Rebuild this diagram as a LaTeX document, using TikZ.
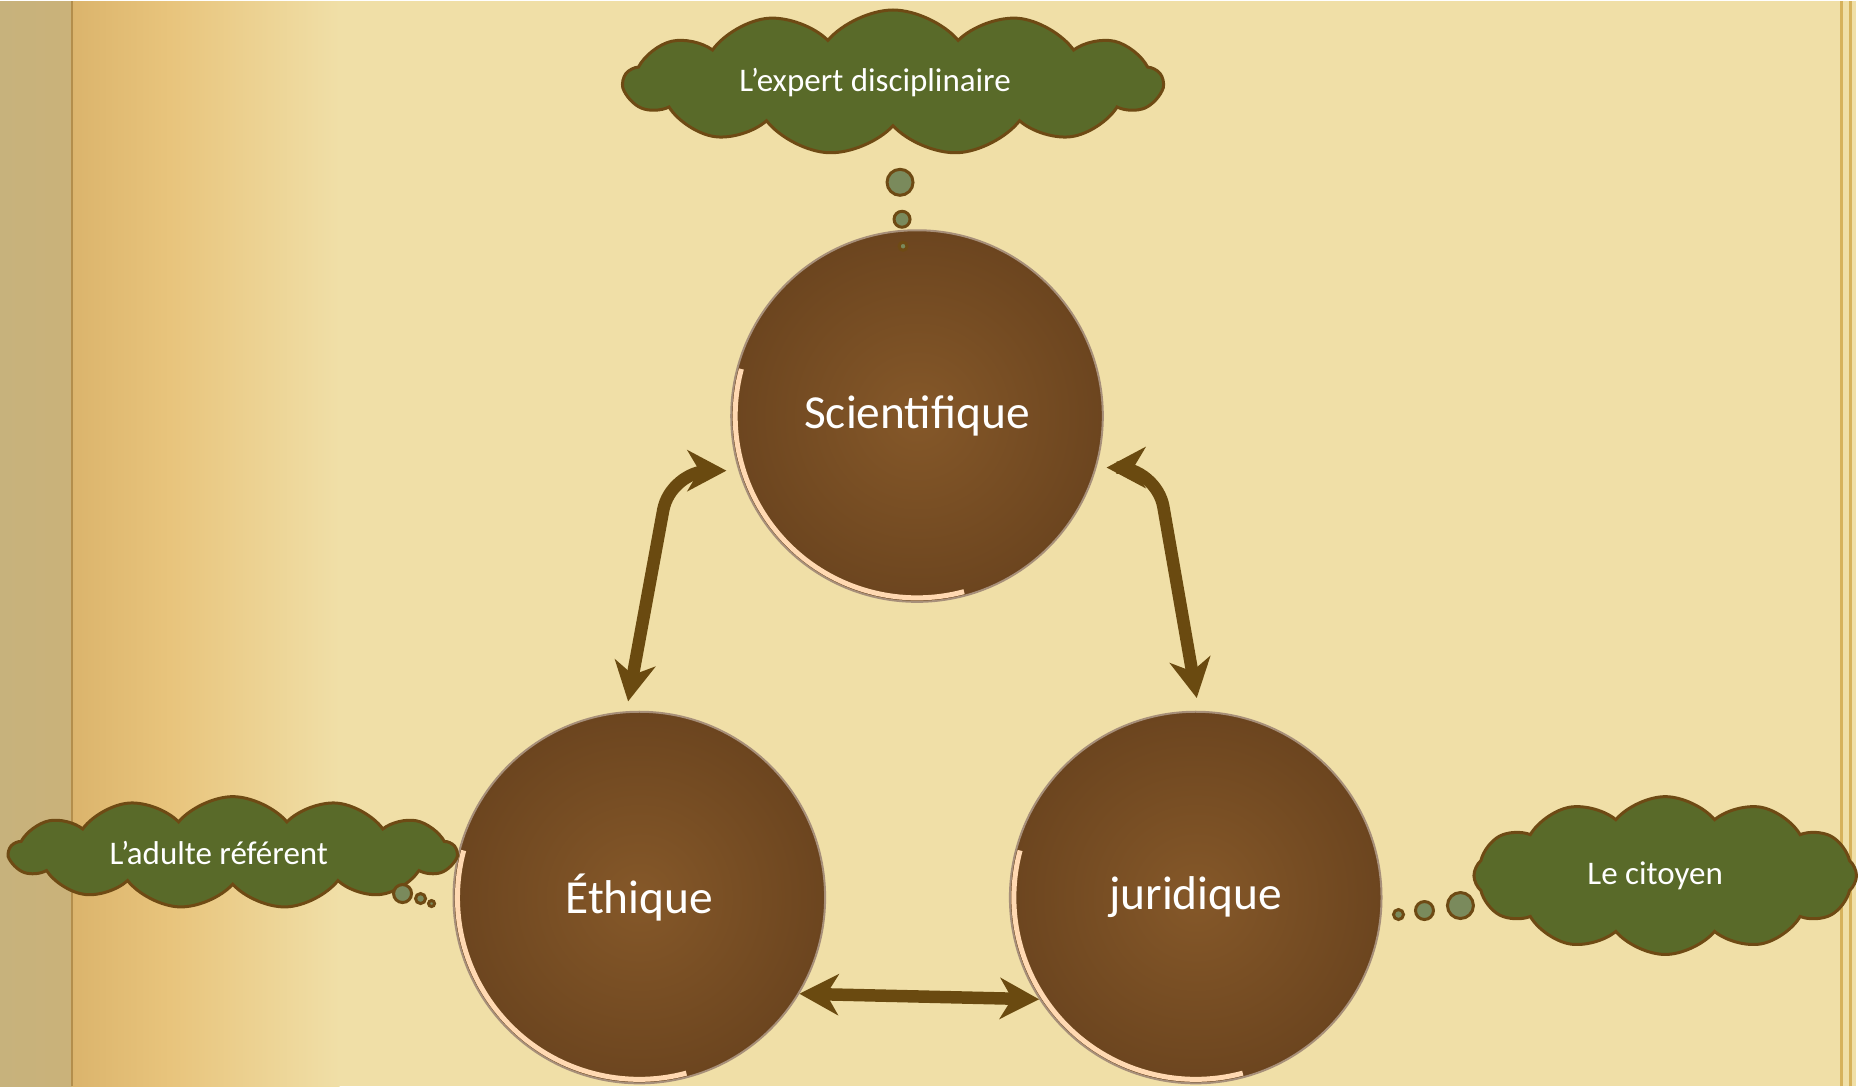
\documentclass[tikz,border=0pt]{standalone}
\usepackage{fontspec}
\setmainfont{Carlito}
\usetikzlibrary{shapes,arrows.meta}
\definecolor{parch}{HTML}{F0DFA7}
\definecolor{bandgrey}{HTML}{C7B27C}
\definecolor{bandgold}{HTML}{DBB46C}
\definecolor{bandorange}{HTML}{E8C47C}
\definecolor{edgeline}{HTML}{B38E4C}
\definecolor{trim}{HTML}{D6B25C}
\definecolor{arrowbrown}{HTML}{6A4A10}
\definecolor{leather}{HTML}{855829}
\definecolor{leatherdark}{HTML}{6C451F}
\definecolor{moss}{HTML}{596A29}
\definecolor{mosslight}{HTML}{7A8A5C}
\definecolor{cloudedge}{HTML}{6E4A14}
\pgfdeclareradialshading{cloudglow}{\pgfpoint{0bp}{0bp}}{color(0bp)=(moss); color(37bp)=(moss); color(49bp)=(mosslight); color(50bp)=(mosslight)}

\begin{document}
\begin{tikzpicture}[x=0.1mm,y=0.1mm,
	topic/.style={circle,minimum size=37.2mm,inner color=leather,outer color=leatherdark,draw=leatherdark!60!white,line width=0.2mm,text=white,font=\fontsize{13.5}{16}\selectfont},
	thought/.style={cloud,cloud puffs=13,cloud puff arc=100,cloud ignores aspect,shading=cloudglow,draw=cloudedge,line width=0.3mm,text=white,font=\fontsize{9.4}{11}\selectfont},
	bubble/.style={circle,inner sep=0pt,fill=mosslight,draw=cloudedge,line width=0.3mm},
	link/.style={arrowbrown,line width=1.25mm,rounded corners=4mm,{Stealth[length=3.9mm,width=4.1mm,inset=1.2mm]}-{Stealth[length=3.9mm,width=4.1mm,inset=1.2mm]}},
	rim/.style={line width=0.5mm,color=#1}]
	\fill[parch] (0,0) rectangle (1858,1086);
	\shade[left color=bandgrey,right color=bandgrey!85!bandgold] (0,0) rectangle (72,1086);
	\shade[left color=bandgold,right color=bandorange] (72,0) rectangle (170,1086);
	\shade[left color=bandorange,right color=parch] (170,0) rectangle (340,1086);
	\draw[edgeline,line width=0.2mm] (72,0) -- (72,1086);
	\draw[trim,line width=0.3mm] (1843,0) -- (1843,1086);
	\draw[trim,line width=0.3mm] (1852,0) -- (1852,1086);

	\node[topic] (sci) at (918,671) {Scientifique};
	\node[topic] (eth) at (640,189) {Éthique};
	\node[topic] (jur) at (1197,189) {juridique};
	\foreach \c in {sci,eth,jur}{
		\draw[rim=white!70!orange] (\c.center) ++(165:18.2mm) arc[start angle=165,end angle=285,radius=18.2mm];
	}

	\node[thought,minimum width=53.9mm,minimum height=14.5mm] (expert) at (894,1005) {L’expert disciplinaire\hspace*{3.6mm}};
	\node[thought,minimum width=44.7mm,minimum height=11.2mm] (adulte) at (233,234) {L’adulte référent\hspace*{2.8mm}};
	\node[thought,cloud puffs=12,minimum width=38.3mm,minimum height=15.8mm] (citoyen) at (1667,211) {Le citoyen\hspace*{2mm}};

	\node[bubble,minimum size=2.6mm] (e1) at (901,905) {};
	\node[bubble,minimum size=1.6mm] (e2) at (903,868) {};
	\node[bubble,minimum size=0.8mm] (e3) at (904,841) {};
	\node[bubble,minimum size=1.8mm] (a1) at (403,193) {};
	\node[bubble,minimum size=1.0mm] (a2) at (421,188) {};
	\node[bubble,minimum size=0.6mm] (a3) at (432,183) {};
	\node[bubble,minimum size=2.6mm] (c1) at (1462,181) {};
	\node[bubble,minimum size=1.8mm] (c2) at (1426,176) {};
	\node[bubble,minimum size=1.0mm] (c3) at (1400,172) {};

	\draw[link,shorten <=1.2mm,shorten >=1mm] (sci.197) -- ++(-68,0) -- (eth.94);
	\draw[link,shorten <=1mm,shorten >=1.3mm] (sci.-16) -- ++(60,0) -- (jur.89);
	\draw[link] (eth.-31) -- (jur.213);
\end{tikzpicture}
\end{document}
